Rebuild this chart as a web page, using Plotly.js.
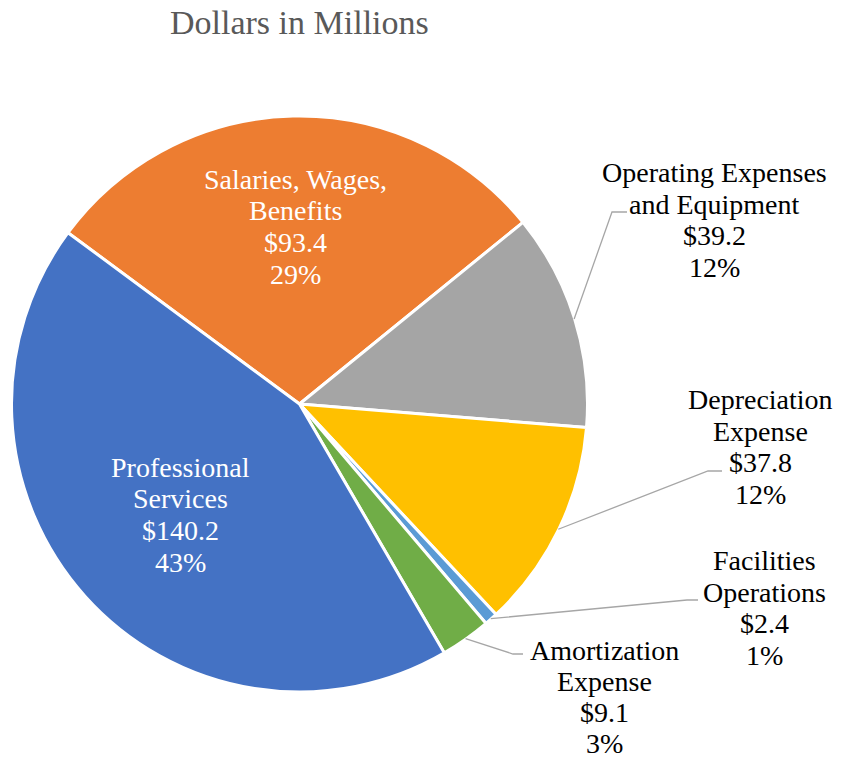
<!DOCTYPE html>
<html><head><meta charset="utf-8">
<script src="https://cdn.plot.ly/plotly-3.0.1.min.js"></script>
<style>html,body{margin:0;padding:0;background:#fff}</style>
</head><body><div id="chart" style="width:841px;height:761px"></div>
<script>
// ---- data ----
const categories = ["Salaries, Wages, Benefits", "Operating Expenses and Equipment", "Depreciation Expense", "Facilities Operations", "Amortization Expense", "Professional Services"];
const labelLines = [["Salaries, Wages,", "Benefits"], ["Operating Expenses", "and Equipment"], ["Depreciation", "Expense"], ["Facilities", "Operations"], ["Amortization", "Expense"], ["Professional", "Services"]];
const values = [93.4, 39.2, 37.8, 2.4, 9.1, 140.2];
const valueLabels = ["$93.4", "$39.2", "$37.8", "$2.4", "$9.1", "$140.2"];
const percents = ["29%", "12%", "12%", "1%", "3%", "43%"];
const titleText = "Dollars in Millions";

// ---- styling / layout ----
const colors = ["#ED7D31", "#A5A5A5", "#FFC000", "#5B9BD5", "#70AD47", "#4472C4"];
const W = 841, H = 761;
const pieLeft = 11, pieRight = 588, pieTop = 116, pieBottom = 692;
const rotation = -53.5;
const CX = (pieLeft + pieRight) / 2, CY = (pieTop + pieBottom) / 2, R = (pieRight - pieLeft) / 2;
const FONT = "Liberation Serif";
// label placement (pixels); inside labels use radius fraction along slice mid-angle
const placement = [
  {inside: true, rf: 0.615, dy: 0, gap: 31.7},
  {cx: 714, cy: 220, gap: 31.7, elbow: [612, 212], end: [627, 212]},
  {cx: 760, cy: 447, gap: 31.7, elbow: [708, 471], end: [722, 471]},
  {cx: 764, cy: 608, gap: 31.7, elbow: [687, 600], end: [698, 600]},
  {cx: 604, cy: 697, gap: 31, elbow: [513, 654], end: [523, 654]},
  {inside: true, rf: 0.555, dy: 4, gap: 31.7}
];

const px = x => x / W, py = y => 1 - y / H;
const total = values.reduce((a, b) => a + b, 0);

const annotations = [];
const shapes = [];
let start = rotation;
values.forEach((v, i) => {
  const span = v / total * 360;
  const mid = (start + span / 2) * Math.PI / 180;
  start += span;
  const p = placement[i];
  let cx, cy;
  if (p.inside) {
    cx = CX + R * p.rf * Math.sin(mid);
    cy = CY - R * p.rf * Math.cos(mid) + p.dy;
  } else {
    cx = p.cx; cy = p.cy;
    const ex = CX + (R - 1) * Math.sin(mid), ey = CY - (R - 1) * Math.cos(mid);
    shapes.push({type: "path", xref: "paper", yref: "paper",
      path: `M ${px(ex)} ${py(ey)} L ${px(p.elbow[0])} ${py(p.elbow[1])} L ${px(p.end[0])} ${py(p.end[1])}`,
      line: {color: "#A6A6A6", width: 1.3}});
  }
  const lines = labelLines[i].concat([valueLabels[i], percents[i]]);
  lines.forEach((t, j) => {
    annotations.push({text: t, xref: "paper", yref: "paper", x: px(cx), y: py(cy + (j - (lines.length - 1) / 2) * p.gap),
      xanchor: "center", yanchor: "middle", showarrow: false, borderpad: 0,
      font: {family: FONT, size: 28, color: p.inside ? "#FFFFFF" : "#000000"}});
  });
});
annotations.push({text: titleText, xref: "paper", yref: "paper", x: px(CX), y: py(22), xanchor: "center", yanchor: "middle",
  showarrow: false, font: {family: FONT, size: 34, color: "#595959"}});

const trace = {
  type: "pie", labels: categories, values: values, sort: false, direction: "clockwise", rotation: rotation,
  marker: {colors: colors, line: {color: "#FFFFFF", width: 3}},
  textinfo: "none", hoverinfo: "label+value+percent", showlegend: false,
  domain: {x: [px(pieLeft), px(pieRight)], y: [py(pieBottom), py(pieTop)]}
};
const layout = {width: W, height: H, margin: {l: 0, r: 0, t: 0, b: 0}, paper_bgcolor: "#fff",
  showlegend: false, annotations: annotations, shapes: shapes};
Plotly.newPlot("chart", [trace], layout, {displayModeBar: false, staticPlot: true});
</script></body></html>
